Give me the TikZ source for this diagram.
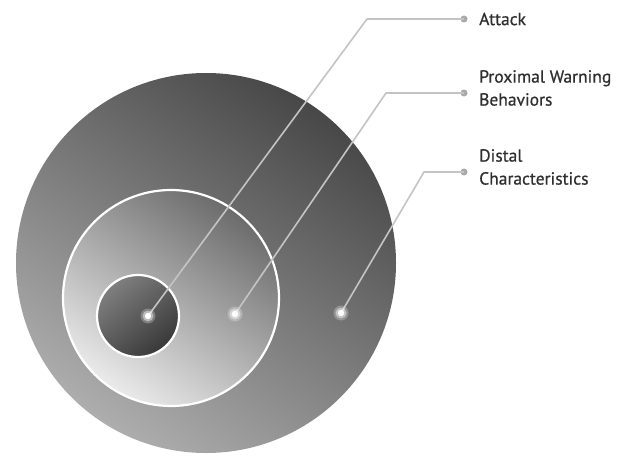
\documentclass[tikz,border=0pt]{standalone}
\usepackage{fontspec}
\setmainfont{PT Sans}
\newfontfamily\lblfont{PT Sans}[FakeBold=0.6]
\definecolor{txtgray}{HTML}{2E2E2E}
\definecolor{linegray}{HTML}{C4C4C4}
\definecolor{enddotgray}{HTML}{A8A8A8}
\tikzset{
  conn/.style={draw=linegray, line width=1.6pt},
  enddot/.style={circle, fill=enddotgray, minimum size=7pt, inner sep=0pt},
  lbl/.style={anchor=west, inner sep=0pt, align=left, text=txtgray,
    font=\lblfont\fontsize{17.5}{23}\selectfont},
  ring/.style={draw=white, line width=2.2pt},
}
\begin{document}
\begin{tikzpicture}[x=1pt,y=-1pt]
\useasboundingbox[fill=white] (0,0) rectangle (628,460);
% outer disc
\shade[top color=black!72, bottom color=black!32, shading angle=-35] (206,263) circle (190);
% middle disc
\shade[top color=black!58, bottom color=black!8, shading angle=-35] (171,298) circle (108);
\draw[ring] (171,298) circle (108);
% inner disc
\shade[top color=black!50, bottom color=black!78, shading angle=40] (138,316) circle (41);
\draw[ring] (138,316) circle (41);
% points
\coordinate (d1) at (148,316);
\coordinate (d2) at (235,314);
\coordinate (d3) at (341,313);
\coordinate (k1) at (367,19);
\coordinate (k2) at (386,93);
\coordinate (k3) at (424,172);
\node[enddot] (e1) at (464,19) {};
\node[enddot] (e2) at (464,93) {};
\node[enddot] (e3) at (464,172) {};
% connectors
\draw[conn] (d1) -- (k1) -- (e1.center);
\draw[conn] (d2) -- (k2) -- (e2.center);
\draw[conn] (d3) -- (k3) -- (e3.center);
% glow dots
\foreach \p in {d1,d2,d3}{
  \fill[white, opacity=0.25] (\p) circle (7.5);
  \fill[white, opacity=0.45] (\p) circle (5.5);
  \fill[white] (\p) circle (3.2);
}
% labels
\node[lbl] (t1) at (479,19) {Attack};
\node[lbl] (t2) at (479,88) {Proximal Warning\\Behaviors};
\node[lbl] (t3) at (479,167) {Distal\\Characteristics};
\end{tikzpicture}
\end{document}
